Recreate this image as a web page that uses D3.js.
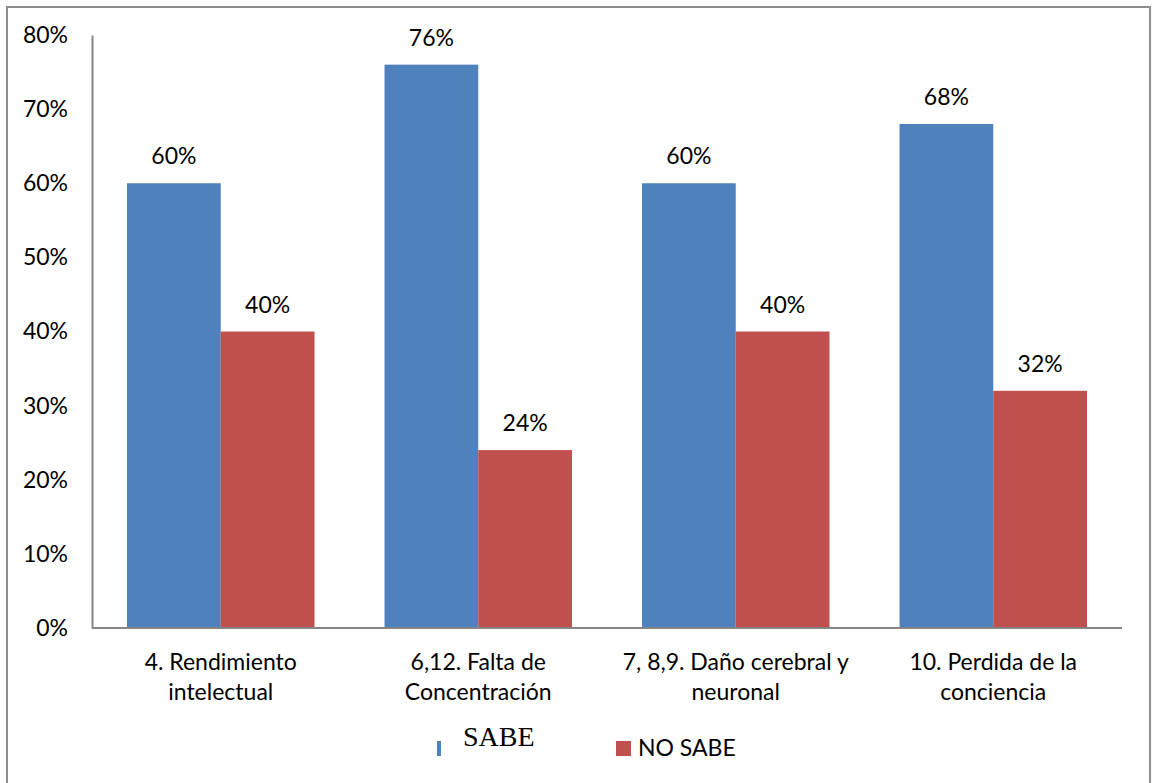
<!DOCTYPE html>
<html><head><meta charset="utf-8">
<script src="https://cdn.jsdelivr.net/npm/d3@7"></script>
<style>body{margin:0;background:#fff}svg{display:block}</style>
</head><body>
<svg id="c" width="1152" height="783"></svg>
<script>
const categories = [["4. Rendimiento","intelectual"],["6,12. Falta de","Concentración"],["7, 8,9. Daño cerebral y","neuronal"],["10. Perdida de la","conciencia"]];
const sabe = [60, 76, 60, 68];
const noSabe = [40, 24, 40, 32];
const yTicks = [0,10,20,30,40,50,60,70,80];
const seriesNames = ["SABE","NO SABE"];
const colors = ["#4F81BD","#C0504D"];

(function(){
const svg = d3.select("#c");
const font = "Lato, 'Open Sans', sans-serif";
const fs = 23;
svg.append("rect").attr("x",7).attr("y",7).attr("width",1143).attr("height",800)
  .attr("fill","#fff").attr("stroke","#8c8c8c").attr("stroke-width",2);

const pL=92, pR=1122, pT=35, pB=628;
const x0 = d3.scaleBand().domain(d3.range(categories.length)).range([pL,pR]).paddingInner(0.272).paddingOuter(0.136);
const x1 = d3.scaleBand().domain([0,1]).range([0,x0.bandwidth()]);
const y = d3.scaleLinear().domain([0,80]).range([pB,pT]);

const g = svg.append("g");
categories.forEach((c,i)=>{
  [sabe[i],noSabe[i]].forEach((v,s)=>{
    g.append("rect").attr("x",x0(i)+x1(s)).attr("y",y(v)).attr("width",x1.bandwidth()).attr("height",y(0)-y(v)).attr("fill",colors[s]);
    g.append("text").attr("x",x0(i)+x1(s)+x1.bandwidth()/2).attr("y",y(v)-19).attr("text-anchor","middle")
      .attr("font-family",font).attr("font-size",fs).attr("fill","#000").text(v+"%");
  });
});

const yAxis = d3.axisLeft(y).tickValues(yTicks).tickFormat(d=>d+"%").tickSize(0).tickPadding(24);
const ya = svg.append("g").attr("transform",`translate(${pL},0)`).call(yAxis);
ya.select(".domain").attr("stroke","#868686").attr("stroke-width",2);
ya.selectAll("text").attr("font-family",font).attr("font-size",fs).attr("fill","#000");

const xa = svg.append("g").attr("transform",`translate(0,${pB})`).call(d3.axisBottom(x0).tickSize(0).tickFormat(""));
xa.select(".domain").attr("stroke","#868686").attr("stroke-width",2).attr("d",`M${pL},0H${pR}`);
categories.forEach((c,i)=>{
  const t = svg.append("text").attr("x",x0(i)+x0.bandwidth()/2).attr("y",pB+42).attr("text-anchor","middle")
    .attr("font-family",font).attr("font-size",fs).attr("fill","#000");
  c.forEach((line,k)=>t.append("tspan").attr("x",x0(i)+x0.bandwidth()/2).attr("dy",k?30:0).text(line));
});

svg.append("rect").attr("x",437).attr("y",741).attr("width",4).attr("height",15).attr("fill",colors[0]);
svg.append("text").attr("x",463).attr("y",746).attr("font-family","'Liberation Serif', serif").attr("font-size",28).attr("fill","#000").text(seriesNames[0]);
svg.append("rect").attr("x",616).attr("y",741).attr("width",15).attr("height",15).attr("fill",colors[1]);
svg.append("text").attr("x",638).attr("y",756).attr("font-family",font).attr("font-size",fs).attr("fill","#000").text(seriesNames[1]);
})();
</script>
</body></html>
